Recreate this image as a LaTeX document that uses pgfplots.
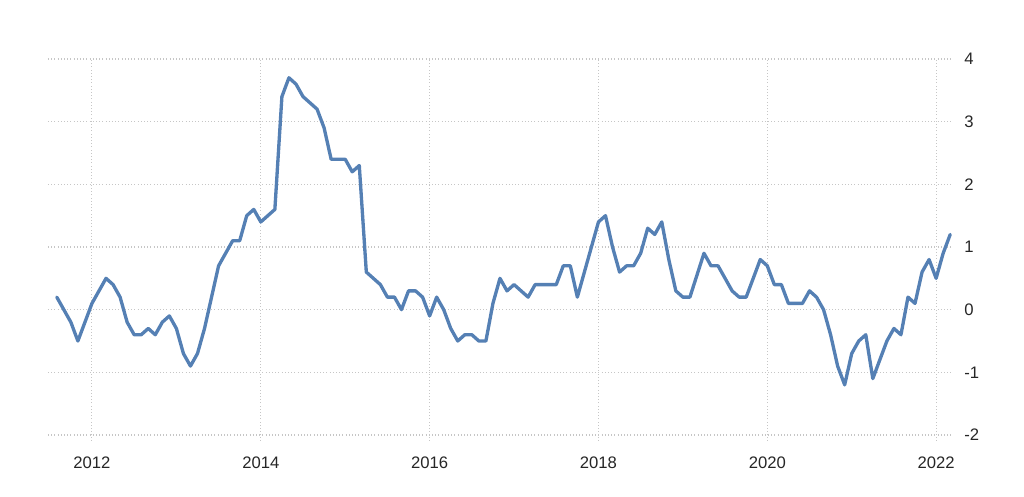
\documentclass[border=0pt]{standalone}
\usepackage{pgfplots}
\pgfplotsset{compat=1.18}
\usepackage{fontspec}
\setmainfont{Liberation Sans}

\definecolor{linecol}{HTML}{5580B4}
\definecolor{gridcol}{HTML}{C6C6C6}
\definecolor{labcol}{HTML}{262626}

% monthly values, m = months since Jan 2012
\pgfplotstableread{
m v
-5 0.2
-4 0.0
-3 -0.2
-2 -0.5
-1 -0.2
0 0.1
1 0.3
2 0.5
3 0.4
4 0.2
5 -0.2
6 -0.4
7 -0.4
8 -0.3
9 -0.4
10 -0.2
11 -0.1
12 -0.3
13 -0.7
14 -0.9
15 -0.7
16 -0.3
17 0.2
18 0.7
19 0.9
20 1.1
21 1.1
22 1.5
23 1.6
24 1.4
25 1.5
26 1.6
27 3.4
28 3.7
29 3.6
30 3.4
31 3.3
32 3.2
33 2.9
34 2.4
35 2.4
36 2.4
37 2.2
38 2.3
39 0.6
40 0.5
41 0.4
42 0.2
43 0.2
44 0.0
45 0.3
46 0.3
47 0.2
48 -0.1
49 0.2
50 0.0
51 -0.3
52 -0.5
53 -0.4
54 -0.4
55 -0.5
56 -0.5
57 0.1
58 0.5
59 0.3
60 0.4
61 0.3
62 0.2
63 0.4
64 0.4
65 0.4
66 0.4
67 0.7
68 0.7
69 0.2
70 0.6
71 1.0
72 1.4
73 1.5
74 1.0
75 0.6
76 0.7
77 0.7
78 0.9
79 1.3
80 1.2
81 1.4
82 0.8
83 0.3
84 0.2
85 0.2
86 0.55
87 0.9
88 0.7
89 0.7
90 0.5
91 0.3
92 0.2
93 0.2
94 0.5
95 0.8
96 0.7
97 0.4
98 0.4
99 0.1
100 0.1
101 0.1
102 0.3
103 0.2
104 0.0
105 -0.4
106 -0.9
107 -1.2
108 -0.7
109 -0.5
110 -0.4
111 -1.1
112 -0.8
113 -0.5
114 -0.3
115 -0.4
116 0.2
117 0.1
118 0.6
119 0.8
120 0.5
121 0.9
122 1.2
}\datatable

\begin{document}
\begin{tikzpicture}
  \useasboundingbox (-36pt,-45.75pt) rectangle (732pt,326.25pt);
  \begin{axis}[
    at={(0,0)}, anchor=south west,
    scale only axis,
    width=678.75pt, height=282pt,
    xmin=-6.25, xmax=122.4,
    ymin=-2, ymax=4,
    axis line style={draw=none},
    xtick={0,24,48,72,96,120},
    xticklabels={2012,2014,2016,2018,2020,2022},
    ytick={-2,-1,0,1,2,3,4},
    grid=major,
    grid style={gridcol, dotted, line width=0.8pt},
    xtick pos=bottom,
    ytick pos=right,
    tick align=outside,
    major tick length=4pt,
    xtick style={gridcol, dotted, line width=0.8pt},
    ytick style={draw=none},
    yticklabel pos=right,
    yticklabel style={anchor=west, xshift=1pt},
    xticklabel style={yshift=-9pt},
    ticklabel style={font=\fontsize{12.5}{14}\selectfont, text=labcol},
    /pgf/number format/assume math mode=true,
    clip=false,
  ]
  \addplot[linecol, line width=2.5pt, line join=round, line cap=round]
    table[x=m, y=v] {\datatable};
  \end{axis}
\end{tikzpicture}
\end{document}
